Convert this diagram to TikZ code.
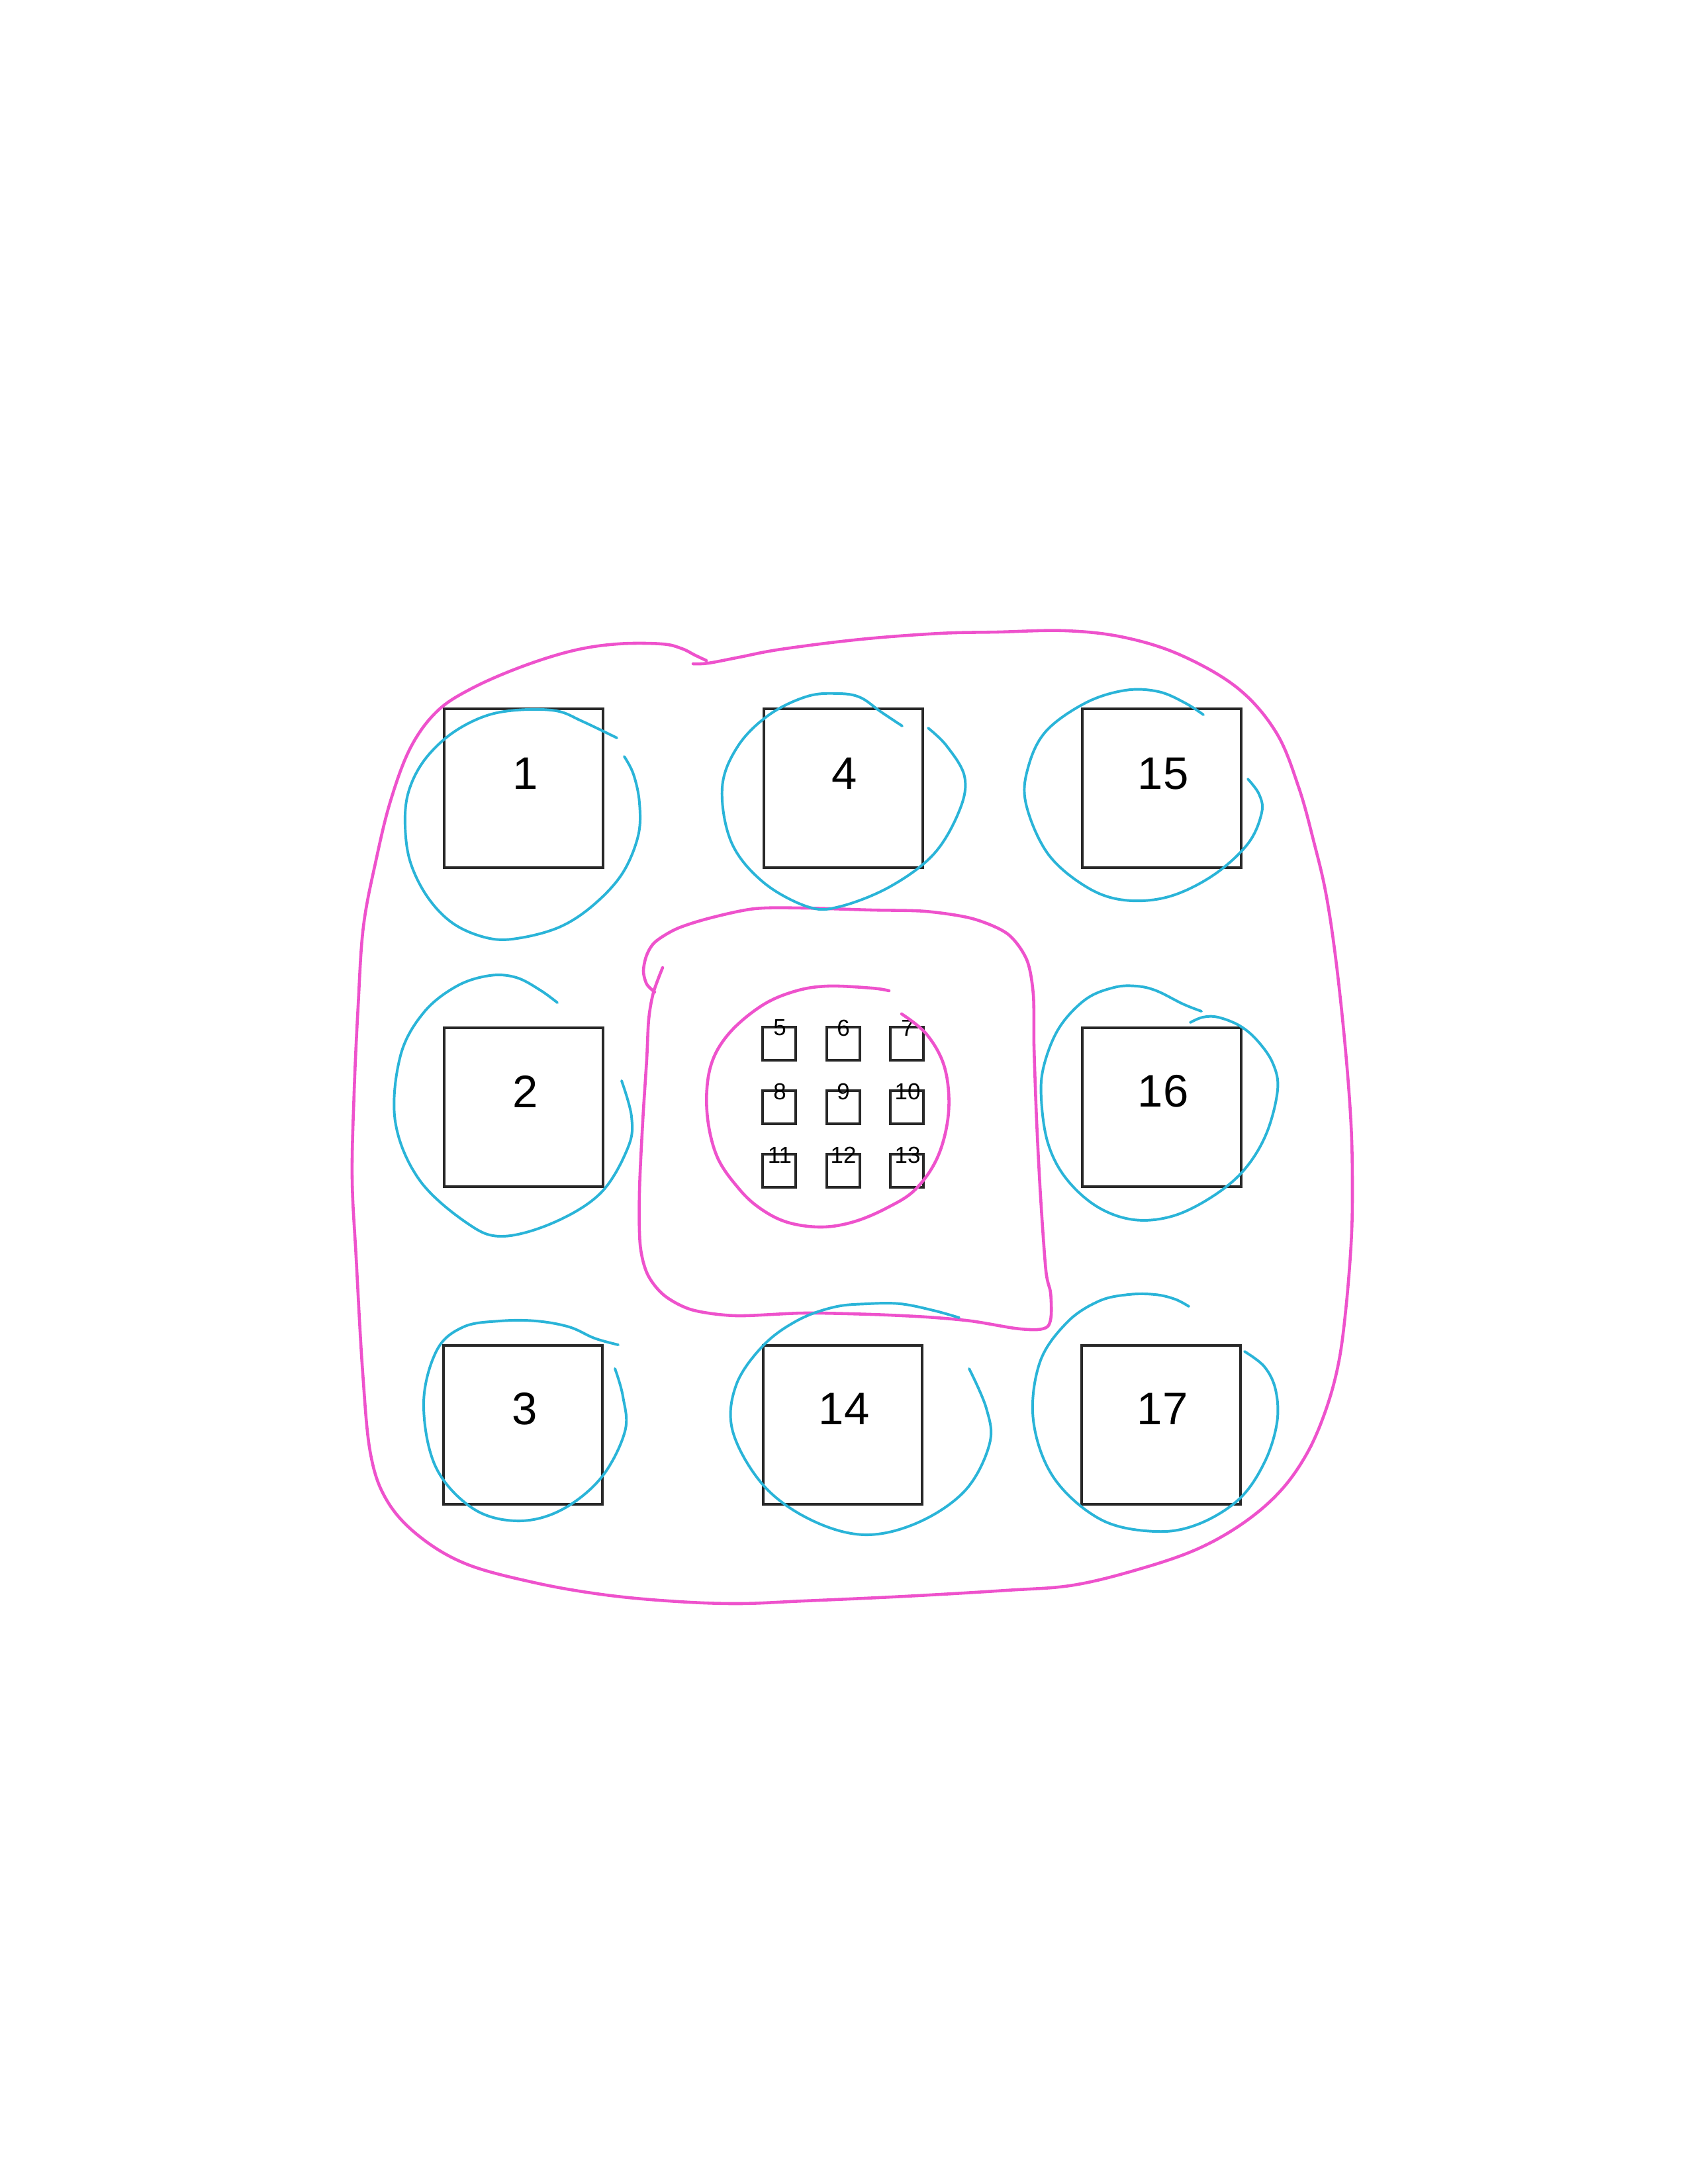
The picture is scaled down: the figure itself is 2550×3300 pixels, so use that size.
\documentclass[tikz,border=0pt]{standalone}
\usepackage{fontspec}
\setmainfont{Liberation Sans}
\definecolor{hlpink}{RGB}{238,82,204}
\definecolor{hlcyan}{RGB}{42,180,216}
\definecolor{boxgray}{RGB}{40,40,40}
\begin{document}
\begin{tikzpicture}[x=0.0846667mm,y=-0.0846667mm,
  bigbox/.style={draw=boxgray,line width=1.15pt,minimum size=240*0.0846667mm,inner sep=0pt,outer sep=0pt},
  smallbox/.style={draw=boxgray,line width=1pt,minimum size=50*0.0846667mm,inner sep=0pt,outer sep=0pt},
  biglabel/.style={font=\fontsize{16.6}{18}\selectfont,inner sep=0pt},
  smalllabel/.style={font=\fontsize{8.4}{9}\selectfont,inner sep=0pt},
  pinkline/.style={draw=hlpink,line width=1.1pt,line cap=round,line join=round},
  cyanline/.style={draw=hlcyan,line width=0.95pt,line cap=round,line join=round}]
\useasboundingbox (0,0) rectangle (2550,3300);
\fill[white] (0,0) rectangle (2550,3300);

% big boxes
\node[bigbox] (b1) at (791,1191) {};
\node[bigbox] (b4) at (1274,1191) {};
\node[bigbox] (b15) at (1755,1191) {};
\node[bigbox] (b2) at (791,1673) {};
\node[bigbox] (b16) at (1755,1673) {};
\node[bigbox] (b3) at (790,2153) {};
\node[bigbox] (b14) at (1273,2153) {};
\node[bigbox] (b17) at (1754,2153) {};
\node[biglabel] (l1) at (794,1169) {1};
\node[biglabel] (l4) at (1276,1169) {4};
\node[biglabel] (l15) at (1757,1169) {15};
\node[biglabel] (l2) at (794,1649) {2};
\node[biglabel] (l16) at (1757,1649) {16};
\node[biglabel] (l3) at (793,2129) {3};
\node[biglabel] (l14) at (1275,2129) {14};
\node[biglabel] (l17) at (1756,2129) {17};

% small boxes
\node[smallbox] (s5) at (1177,1577) {};
\node[smallbox] (s6) at (1274,1577) {};
\node[smallbox] (s7) at (1370,1577) {};
\node[smallbox] (s8) at (1177,1673) {};
\node[smallbox] (s9) at (1274,1673) {};
\node[smallbox] (s10) at (1370,1673) {};
\node[smallbox] (s11) at (1177,1769) {};
\node[smallbox] (s12) at (1274,1769) {};
\node[smallbox] (s13) at (1370,1769) {};
\node[smalllabel] (t5) at (1178,1553) {5};
\node[smalllabel] (t6) at (1274,1553) {6};
\node[smalllabel] (t7) at (1371,1553) {7};
\node[smalllabel] (t8) at (1178,1649) {8};
\node[smalllabel] (t9) at (1274,1649) {9};
\node[smalllabel] (t10) at (1371,1649) {10};
\node[smalllabel] (t11) at (1178,1745) {11};
\node[smalllabel] (t12) at (1274,1745) {12};
\node[smalllabel] (t13) at (1371,1745) {13};

% outer pink loop
\draw[pinkline] plot[smooth,tension=0.6] coordinates {
(1047,1003) (1070,1002) (1117,993) (1180,981) (1300,966) (1420,957) (1507,955)
(1610,953) (1698,963) (1784,990) (1870,1040) (1928,1107) (1962,1190) (1985,1273)
(2003,1350) (2018,1450) (2032,1580) (2041,1700) (2043,1800) (2041,1880) (2033,1979)
(2022,2060) (2003,2130) (1975,2195) (1935,2252) (1880,2300) (1810,2340) (1724,2370)
(1622,2395) (1520,2403) (1367,2412) (1214,2419) (1112,2423) (1010,2419) (908,2409)
(806,2391) (704,2363) (633,2321) (585,2268) (560,2198) (548,2075) (538,1900)
(532,1780) (535,1650) (541,1520) (549,1400) (568,1300) (590,1210) (620,1130)
(660,1075) (713,1040) (789,1007) (866,983) (933,973) (1000,973) (1030,980) (1050,990) (1067,998)};

% inner pink rounded square
\draw[pinkline] plot[smooth,tension=0.5] coordinates {
(1001,1462) (987,1500) (980,1540) (977,1600) (971,1694) (966,1800) (967,1880)
(978,1925) (1003,1957) (1045,1979) (1112,1988) (1214,1984) (1316,1986) (1400,1990)
(1467,1996) (1533,2007) (1567,2009) (1583,2004) (1588,1987) (1587,1953) (1580,1920)
(1572,1809) (1566,1694) (1562,1580) (1561,1503) (1551,1450) (1522,1411) (1469,1388)
(1398,1377) (1316,1375) (1214,1372) (1140,1373) (1073,1387) (1023,1403) (990,1423)
(977,1443) (972,1467) (977,1487) (989,1499)};

% small pink circle around 5..13
\draw[pinkline] plot[smooth,tension=0.6] coordinates {
(1343,1497) (1317,1493) (1250,1490) (1200,1498) (1150,1520) (1100,1563) (1073,1613)
(1068,1680) (1083,1747) (1117,1797) (1150,1827) (1190,1847) (1241,1854) (1290,1846)
(1340,1825) (1383,1797) (1417,1747) (1433,1680) (1427,1613) (1400,1563) (1362,1532)};

% cyan circles
\draw[cyanline] plot[smooth,tension=0.6] coordinates {
(932,1115) (880,1090) (840,1074) (780,1073) (730,1083) (680,1110) (640,1150)
(617,1197) (612,1247) (620,1303) (647,1357) (687,1397) (740,1418) (787,1417)
(847,1400) (897,1367) (940,1320) (964,1263) (966,1213) (957,1170) (943,1143)};
\draw[cyanline] plot[smooth,tension=0.6] coordinates {
(1363,1097) (1330,1075) (1300,1054) (1268,1048) (1220,1052) (1162,1080) (1115,1127)
(1091,1190) (1105,1273) (1153,1333) (1220,1370) (1268,1370) (1344,1340) (1411,1290)
(1450,1223) (1457,1173) (1430,1127) (1402,1100)};
\draw[cyanline] plot[smooth,tension=0.6] coordinates {
(1818,1080) (1790,1062) (1750,1045) (1700,1043) (1640,1062) (1580,1105) (1553,1160)
(1550,1215) (1583,1290) (1641,1340) (1698,1360) (1765,1355) (1832,1323) (1885,1275)
(1906,1228) (1902,1200) (1885,1177)};
\draw[cyanline] plot[smooth,tension=0.6] coordinates {
(842,1515) (816,1496) (780,1477) (740,1474) (690,1490) (640,1530) (605,1595)
(597,1694) (633,1782) (704,1847) (758,1868) (837,1847) (908,1802) (949,1733)
(954,1687) (939,1633)};
\draw[cyanline] plot[smooth,tension=0.6] coordinates {
(1815,1528) (1787,1517) (1747,1497) (1717,1490) (1683,1492) (1640,1510) (1600,1553)
(1577,1610) (1573,1660) (1583,1727) (1610,1780) (1657,1823) (1713,1843) (1773,1837)
(1833,1807) (1880,1767) (1913,1713) (1930,1647) (1923,1607) (1900,1573) (1873,1550)
(1840,1537) (1817,1537) (1798,1545)};
\draw[cyanline] plot[smooth,tension=0.6] coordinates {
(934,2032) (898,2022) (860,2005) (810,1996) (755,1996) (700,2005) (660,2040)
(640,2120) (658,2216) (714,2279) (781,2298) (847,2282) (908,2233) (944,2163)
(941,2110) (929,2068)};
\draw[cyanline] plot[smooth,tension=0.6] coordinates {
(1449,1991) (1410,1980) (1360,1970) (1310,1970) (1260,1975) (1205,1995) (1153,2033)
(1112,2093) (1107,2163) (1153,2244) (1224,2296) (1306,2319) (1388,2300) (1459,2251)
(1495,2181) (1490,2128) (1464,2068)};
\draw[cyanline] plot[smooth,tension=0.6] coordinates {
(1796,1974) (1775,1963) (1745,1956) (1705,1956) (1660,1966) (1612,1998) (1571,2058)
(1561,2146) (1592,2233) (1663,2296) (1745,2314) (1810,2303) (1872,2265) (1910,2210)
(1929,2150) (1927,2100) (1910,2065) (1880,2042)};
\end{tikzpicture}
\end{document}
